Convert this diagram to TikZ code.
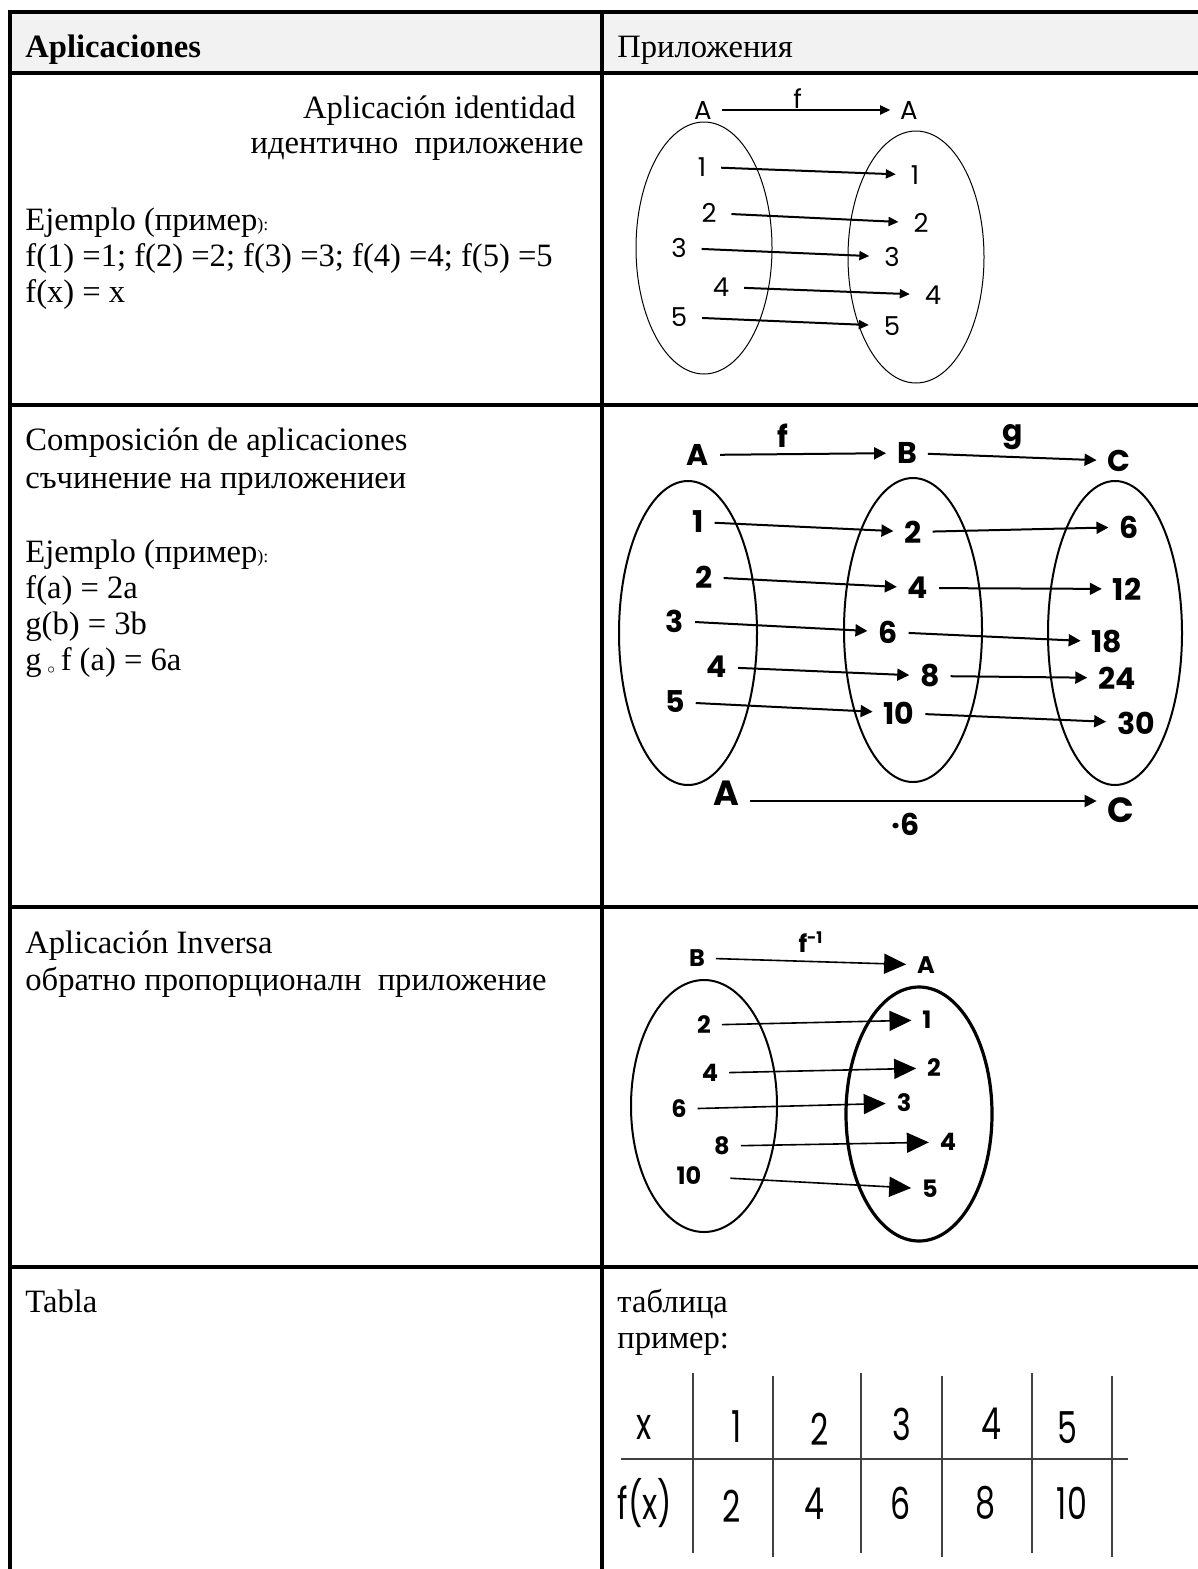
\documentclass[tikz,border=0pt]{standalone}
\usepackage{fontspec}
\setmainfont{Liberation Serif}
\newfontfamily\gothic{Poppins}
\newfontfamily\gothictab[FakeStretch=0.72]{Poppins}
\usetikzlibrary{arrows.meta}
\definecolor{color_head_fill}{HTML}{F2F2F2}
\definecolor{color_table_line}{HTML}{404040}
\def\rulewidth{1.6pt}

\begin{document}
\begin{tikzpicture}[x=0.5pt, y=-0.5pt,
    txt/.style={anchor=base west, inner sep=0pt, font=\fontsize{16.3}{18}\selectfont},
    rtxt/.style={txt, anchor=base east},
    elt/.style={inner sep=3pt, outer sep=4.5pt, font=\gothic\fontsize{13}{13}\selectfont},
    eltb/.style={inner sep=3pt, outer sep=2.5pt, font=\gothic\bfseries\fontsize{15}{15}\selectfont},
    eltc/.style={inner sep=3pt, outer sep=2.5pt, font=\gothic\bfseries\fontsize{12}{12}\selectfont},
    tcell/.style={inner sep=0pt, font=\gothictab\fontsize{22}{22}\selectfont},
    mapa/.style={line width=1pt, -{Triangle[length=5pt,width=4.5pt]}},
    mapb/.style={line width=1pt, -{Triangle[length=6pt,width=6pt]}},
    mapc/.style={line width=0.8pt, -{Triangle[length=11pt,width=10pt]}},
    rule/.style={line width=\rulewidth},
    tline/.style={color_table_line, line width=0.6pt}]
    \useasboundingbox (0,0) rectangle (1198,1569);
    % frame of the table
    \fill[color_head_fill] (10,12) rectangle (1198,73);
    \draw[rule] (1198,12) -- (10,12) -- (10,1569);
    \draw[rule] (602,12) -- (602,1569);
    \foreach \y in {73,405,907,1267}
        \draw[rule] (10,\y) -- (1198,\y);
    % header
    \node[txt, font=\bfseries\fontsize{16.3}{18}\selectfont] (hdl) at (25,57) {Aplicaciones};
    \node[txt] (hdr) at (617,57) {Приложения};
    %
    % identidad
    \node[rtxt] (idt) at (576,118) {Aplicación identidad};
    \node[rtxt] (idr) at (584,153) {идентично\ \ приложение};
    \node[txt] (ex1) at (25,230) {Ejemplo (пример{\fontsize{9}{9}\selectfont):}};
    \node[txt] (fa1) at (25,266) {f(1) =1; f(2) =2; f(3) =3; f(4) =4; f(5) =5};
    \node[txt] (fb1) at (25,302) {f(x) = x};
    \draw[line width=0.5pt] (704,248) ellipse [x radius=68, y radius=126];
    \draw[line width=0.5pt] (916,257) ellipse [x radius=68, y radius=126];
    \node[elt, outer sep=2pt] (s1) at (703,110) {A};
    \node[elt, outer sep=2pt] (t1) at (909,110) {A};
    \draw[mapa] (s1) -- node[elt, above, pos=0.45, inner sep=1pt, outer sep=0pt] {f} (t1);
    \foreach \n/\x/\y in {1/702/167, 2/709/213, 3/679/248, 4/721/287, 5/679/317}
        \node[elt] (a\n) at (\x,\y) {\n};
    \foreach \n/\x/\y in {1/915/175, 2/921/223, 3/892/257, 4/933/295, 5/892/326}
        \node[elt] (b\n) at (\x,\y) {\n};
    \foreach \n in {1,...,5}
        \draw[mapa] (a\n) -- (b\n);
    %
    % composicion
    \node[txt] (cp1) at (25,450) {Composición de aplicaciones};
    \node[txt] (cp2) at (25,488) {съчинение на приложениеи};
    \node[txt] (ex2) at (25,562) {Ejemplo (пример{\fontsize{9}{9}\selectfont):}};
    \node[txt] (fa2) at (25,598) {f(a) = 2a};
    \node[txt] (gb2) at (25,634) {g(b) = 3b};
    \node[txt] (gf2) at (25,670) {g\,\raisebox{-0.25ex}{\scriptsize$\circ$}\,f (a) = 6a};
    \draw[line width=1pt] (688,633) ellipse [x radius=69, y radius=152];
    \draw[line width=1pt] (913,630) ellipse [x radius=69, y radius=152];
    \draw[line width=1pt] (1115,633) ellipse [x radius=67, y radius=152];
    \node[eltb] (cA) at (698,455) {A};
    \node[eltb] (cB) at (907,453) {B};
    \node[eltb] (cC) at (1119,461) {C};
    \draw[mapb] (cA) -- node[eltb, above, pos=0.38, inner sep=3.5pt, outer sep=0pt] {f} (cB);
    \draw[mapb] (cB) -- node[eltb, above, inner sep=3.5pt, outer sep=0pt] {g} (cC);
    \foreach \i/\v/\x/\y in {1/1/698/522, 2/2/704/577, 3/3/675/621, 4/4/717/667, 5/5/675/702}
        \node[eltb] (p\i) at (\x,\y) {\v};
    \foreach \i/\v/\x/\y in {1/2/913/532, 2/4/918/588, 3/6/888/632, 4/8/930/676, 5/10/899/713}
        \node[eltb] (q\i) at (\x,\y) {\v};
    \foreach \i/\v/\x/\y in {1/6/1129/527, 2/12/1127/589, 3/18/1107/642, 4/24/1117/678, 5/30/1136/723}
        \node[eltb] (r\i) at (\x,\y) {\v};
    \foreach \i in {1,...,5} {
        \draw[mapb] (p\i) -- (q\i);
        \draw[mapb] (q\i) -- (r\i);
    }
    \node[eltb, font=\gothic\bfseries\fontsize{17.5}{17.5}\selectfont] (bA) at (726,793) {A};
    \node[eltb, font=\gothic\bfseries\fontsize{17.5}{17.5}\selectfont] (bC) at (1121,810) {C};
    \draw[mapb] ([yshift=-4pt]bA.east) -- ([yshift=-4pt]bA.east -| bC.west)
        node[eltb, pos=0.45, below, inner sep=6pt, outer sep=0pt] {·6};
    %
    % inversa
    \node[txt] (iv1) at (25,953) {Aplicación Inversa};
    \node[txt] (iv2) at (25,990) {обратно пропорционалн\ \ приложение};
    \draw[line width=1pt] (704,1106) ellipse [x radius=73, y radius=126];
    \draw[line width=1.6pt] (919,1114) ellipse [x radius=73, y radius=127];
    \node[eltc] (iB) at (697,958) {B};
    \node[eltc] (iA) at (926,965) {A};
    \draw[mapc] (iB) -- node[eltc, above, inner sep=4.5pt, outer sep=0pt] {f\textsuperscript{-1}} (iA);
    \foreach \i/\v/\x/\y in {1/2/704/1025, 2/4/710/1073, 3/6/679/1109, 4/8/722/1146, 5/10/689/1176}
        \node[eltc] (u\i) at (\x,\y) {\v};
    \foreach \i/\v/\x/\y in {1/1/927/1020, 2/2/934/1068, 3/3/904/1103, 4/4/948/1142, 5/5/930/1189}
        \node[eltc] (w\i) at (\x,\y) {\v};
    \foreach \i in {1,...,4}
        \draw[mapc] (u\i) -- (w\i);
    \draw[mapc, shorten <=9pt] (u5) -- (w5);
    %
    % tabla
    \node[txt] (tb1) at (25,1312) {Tabla};
    \node[txt] (tb2) at (617,1312) {таблица};
    \node[txt] (tb3) at (617,1348) {пример:};
    \foreach \x/\a/\b in {693/1373/1553, 773/1376/1557, 861/1373/1553, 942/1376/1557, 1032/1373/1553, 1112/1376/1557}
        \draw[tline] (\x,\a) -- (\x,\b);
    \draw[tline] (621,1459) -- (1128,1459);
    \foreach \i/\v/\x/\y in {0/x/644/1427, 1/1/737/1427, 2/2/820/1429, 3/3/902/1424, 4/4/991/1424, 5/5/1067/1428}
        \node[tcell] (tx\i) at (\x,\y) {\v};
    \foreach \i/\v/\x/\y in {0/f(x)/645/1503, 1/2/732/1506, 2/4/814/1504, 3/6/901/1503, 4/8/985/1503, 5/10/1072/1503}
        \node[tcell] (ty\i) at (\x,\y) {\v};
\end{tikzpicture}
\end{document}
